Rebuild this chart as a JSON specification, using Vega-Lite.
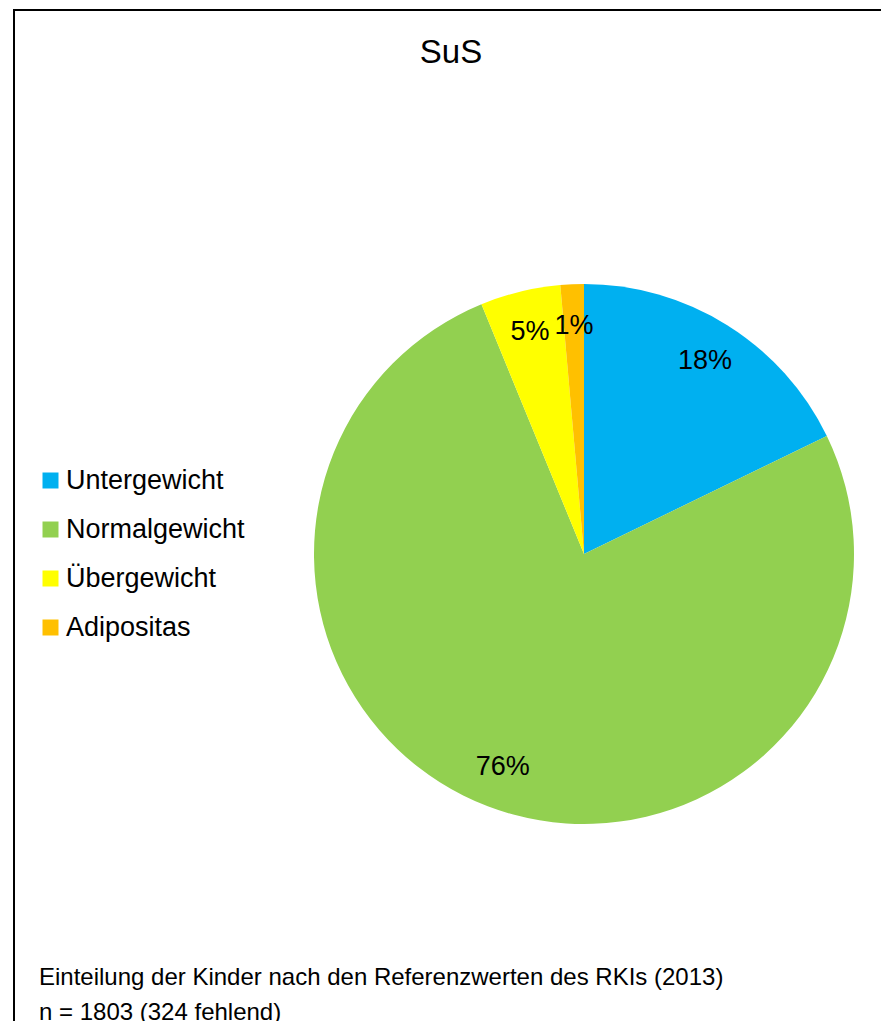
{
  "$schema": "https://vega.github.io/schema/vega-lite/v6.json",
  "width": 1140,
  "height": 1088,
  "autosize": {"type": "none"},
  "padding": {"left": 14, "top": 10, "right": 0, "bottom": 0},
  "background": "#ffffff",
  "config": {
    "view": {"stroke": null},
    "font": "Liberation Sans"
  },
  "title": {
    "text": "SuS",
    "fontSize": 33,
    "fontWeight": "normal",
    "font": "Liberation Sans",
    "color": "#000000",
    "anchor": "middle",
    "frame": "group",
    "orient": "top",
    "offset": 0,
    "baseline": "alphabetic",
    "dx": -133,
    "dy": 87
  },
  "data": {
    "values": [
      {"category": "Untergewicht", "share": 0.178, "rank": 1},
      {"category": "Normalgewicht", "share": 0.760, "rank": 2},
      {"category": "Übergewicht", "share": 0.048, "rank": 3},
      {"category": "Adipositas", "share": 0.014, "rank": 4}
    ]
  },
  "layer": [
    {
      "data": {"values": [{"frame": 1}]},
      "mark": {"type": "rect", "fill": null, "stroke": "#000000", "strokeWidth": 2},
      "encoding": {}
    },
    {
      "mark": {"type": "arc", "outerRadius": 270, "stroke": null},
      "encoding": {
        "theta": {"field": "share", "type": "quantitative", "stack": true},
        "order": {"field": "rank", "type": "quantitative"},
        "color": {
          "field": "category",
          "type": "nominal",
          "scale": {
            "domain": ["Untergewicht", "Normalgewicht", "Übergewicht", "Adipositas"],
            "range": ["#00B0F0", "#92D050", "#FFFF00", "#FFC000"]
          },
          "legend": {
            "title": null,
            "orient": "none",
            "legendX": 23,
            "legendY": 457,
            "padding": 0,
            "symbolType": "square",
            "symbolSize": 256,
            "symbolStrokeWidth": 0,
            "symbolOpacity": 1,
            "labelFontSize": 27,
            "labelFont": "Liberation Sans",
            "labelColor": "#000000",
            "labelOffset": 2,
            "rowPadding": 21,
            "labelLimit": 400
          }
        }
      }
    },
    {
      "mark": {"type": "text", "radius": 228, "fontSize": 27, "font": "Liberation Sans", "color": "#000000"},
      "encoding": {
        "theta": {"field": "share", "type": "quantitative", "stack": true},
        "order": {"field": "rank", "type": "quantitative"},
        "text": {"field": "share", "type": "quantitative", "format": ".0%"}
      }
    },
    {
      "data": {"values": [{"note": "Einteilung der Kinder nach den Referenzwerten des RKIs (2013)\nn = 1803 (324 fehlend)"}]},
      "mark": {"type": "text", "align": "left", "baseline": "alphabetic", "fontSize": 24, "font": "Liberation Sans", "color": "#000000", "lineBreak": "\n", "lineHeight": 35, "x": 25, "y": 975},
      "encoding": {
        "text": {"field": "note", "type": "nominal"}
      }
    }
  ]
}
